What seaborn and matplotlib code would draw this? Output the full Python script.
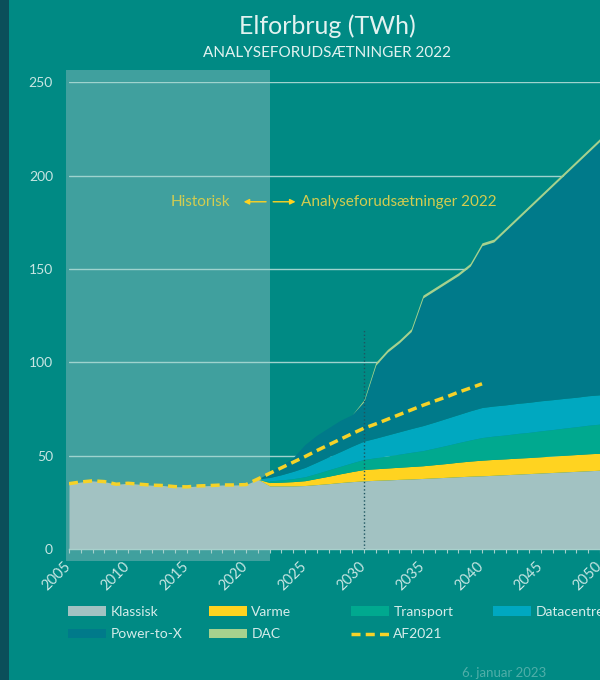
import matplotlib
matplotlib.use("Agg")
import matplotlib.pyplot as plt
from matplotlib.patches import Rectangle
from matplotlib.lines import Line2D
import seaborn as sns

# historic consumption (all classic) 2005-2021
hist_years = list(range(2005, 2022))
hist_total = [35.0, 35.9, 36.5, 36.1, 34.7, 35.2, 34.7, 34.2, 34.0, 33.4,
              33.3, 33.8, 34.0, 34.3, 34.3, 34.5, 37.4]

# projection 2022-2050
proj_years = list(range(2022, 2051))
klassisk = [33.8, 33.8, 33.8, 34.0, 34.5, 35.0, 35.6, 36.1, 36.5, 36.8,
            37.0, 37.3, 37.5, 37.8, 38.1, 38.4, 38.7, 39.0, 39.2, 39.5,
            39.8, 40.1, 40.4, 40.7, 41.0, 41.3, 41.6, 41.9, 42.2]
varme = [1.8, 2.0, 2.3, 2.6, 3.3, 4.0, 4.7, 5.4, 6.1, 6.2,
         6.4, 6.5, 6.7, 6.8, 7.1, 7.4, 7.8, 8.1, 8.4, 8.5,
         8.5, 8.6, 8.6, 8.7, 8.8, 8.9, 9.0, 9.1, 9.1]
transport = [0.9, 1.2, 1.6, 2.1, 2.7, 3.4, 4.0, 4.7, 5.4, 5.9,
             6.5, 7.0, 7.6, 8.1, 8.9, 9.7, 10.5, 11.3, 12.1, 12.5,
             12.8, 13.2, 13.5, 13.9, 14.2, 14.6, 14.9, 15.3, 15.6]
datacentre = [1.8, 2.8, 3.9, 5.0, 6.0, 7.0, 7.9, 8.9, 9.8, 10.5,
              11.2, 12.0, 12.7, 13.4, 13.9, 14.5, 15.0, 15.6, 16.1, 16.1,
              16.1, 16.1, 16.1, 16.1, 16.0, 15.9, 15.8, 15.8, 15.7]
power_to_x = [2.7, 5.2, 7.4, 12.3, 14.5, 15.6, 16.8, 16.9, 21.2, 39.1,
              44.4, 47.7, 52.0, 68.4, 70.5, 72.5, 74.5, 77.5, 86.7, 87.9,
              93.3, 98.5, 103.9, 109.1, 114.5, 119.8, 125.2, 130.4, 135.9]
dac = [0.0, 0.0, 0.0, 0.0, 0.0, 0.0, 0.0, 0.0, 1.0, 1.5,
       1.5, 1.5, 1.5, 1.5, 1.5, 1.5, 1.5, 1.5, 1.5, 1.5,
       1.5, 1.5, 1.5, 1.5, 1.5, 1.5, 1.5, 1.5, 1.5]

# previous analysis assumptions (AF2021), 2005-2040
af_years = list(range(2005, 2041))
af2021 = [35.0, 35.9, 36.5, 36.1, 34.7, 35.2, 34.7, 34.2, 34.0, 33.4,
          33.3, 33.8, 34.0, 34.3, 34.3, 34.5, 37.5, 40.5, 43.5, 46.5,
          49.5, 52.7, 55.8, 58.8, 61.8, 64.7, 67.0, 69.5, 72.0, 74.5,
          77.0, 79.3, 81.5, 84.0, 86.2, 88.5]

labels = ["Klassisk", "Varme", "Transport", "Datacentre", "Power-to-X", "DAC"]
colors = ["#A2C2C2", "#FFD320", "#00A98F", "#00A8C0", "#007A8A", "#A6D18E"]

BG = "#008A84"
TXT = "#C8E6E3"

sns.set_theme(style="white")
plt.rcParams["font.family"] = ["Lato", "DejaVu Sans"]

years = hist_years + proj_years
pad = [0.0] * len(hist_years)
series = [hist_total + klassisk, pad + varme, pad + transport,
          pad + datacentre, pad + power_to_x, pad + dac]

fig = plt.figure(figsize=(6, 6.8), dpi=100, facecolor=BG)
fig.patches.append(Rectangle((0, 0), 9 / 600, 1, transform=fig.transFigure,
                             facecolor="#0B4F5A", edgecolor="none", zorder=0))
ax = fig.add_axes([69 / 600, 131 / 680, 531 / 600, 466.7 / 680])
ax.set_facecolor("none")

# historic shading
ax.add_patch(Rectangle((2004.75, -6.3), 2022.05 - 2004.75, 262.8, facecolor="#40A09E",
                       edgecolor="none", zorder=0.2, clip_on=False))

ax.stackplot(years, *series, colors=colors, linewidth=0, zorder=1)

ax.vlines(2030, 0, 118, colors="#1E5560", linestyles=":", linewidth=1, zorder=2)

sns.lineplot(x=af_years, y=af2021, ax=ax, color="#F5D228", linewidth=2.5,
             linestyle=(0, (2.6, 1.5)), zorder=3, legend=False)

ax.set_xlim(2005, 2050)
ax.set_ylim(0, 250)
ax.set_yticks(range(0, 251, 50))
ax.set_xticks(range(2005, 2051, 5))
ax.set_xticks(range(2005, 2051), minor=True)
ax.grid(axis="y", color="#9FD3CE", linewidth=1)
ax.grid(axis="x", visible=False)
ax.set_axisbelow(True)
for s in ["top", "right", "left"]:
    ax.spines[s].set_visible(False)
ax.spines["bottom"].set_color("#A8D0CC")
ax.spines["bottom"].set_linewidth(1)
ax.spines["bottom"].set_zorder(4)
ax.tick_params(axis="y", length=0, pad=11.5, labelsize=10, labelcolor=TXT)
ax.tick_params(axis="x", which="both", direction="out", length=3, width=0.8,
               color="#A8D0CC", labelsize=10.5, labelcolor=TXT, pad=8, bottom=True)
for lab in ax.get_xticklabels():
    lab.set_rotation(45)
    lab.set_ha("right")
    lab.set_va("center")
    lab.set_rotation_mode("anchor")

# annotation
ann_col = "#D2CC50"
ax.text(2018.7, 186, "Historisk", color=ann_col, fontsize=11, ha="right", va="center")
ax.annotate("", xy=(2019.8, 186), xytext=(2021.7, 186),
            arrowprops=dict(arrowstyle="-|>", color="#FFD320", lw=1, mutation_scale=8,
                            shrinkA=0, shrinkB=0))
ax.annotate("", xy=(2024.2, 186), xytext=(2022.3, 186),
            arrowprops=dict(arrowstyle="-|>", color="#FFD320", lw=1, mutation_scale=8,
                            shrinkA=0, shrinkB=0))
ax.text(2024.65, 186, "Analyseforudsætninger 2022", color=ann_col, fontsize=11,
        ha="left", va="center")

# titles
fig.text(327 / 600, 1 - 26 / 680, "Elforbrug (TWh)", ha="center", va="center",
         fontsize=18, color="#E2F2F0")
fig.text(327 / 600, 1 - 53 / 680, "ANALYSEFORUDSÆTNINGER 2022", ha="center",
         va="center", fontsize=11, color="#E2F2F0")
fig.text(462 / 600, 1 - 673 / 680, "6. januar 2023", ha="left", va="center",
         fontsize=9.5, color="#4FAEA8")

# legend, one column at a time
handles = [Rectangle((0, 0), 1, 1, facecolor=c, edgecolor="none") for c in colors]
handles.append(Line2D([], [], color="#F5D228", linewidth=2.5, linestyle=(0, (2.6, 1.5))))
names = labels + ["AF2021"]
columns = [[0, 4], [1, 5], [2, 6], [3]]
col_x = [68, 209, 351, 493]
for idx, cx in zip(columns, col_x):
    leg = fig.legend([handles[i] for i in idx], [names[i] for i in idx],
                     loc="upper left", bbox_to_anchor=(cx / 600, 1 - 606 / 680),
                     frameon=False, fontsize=10, handlelength=2.7, handleheight=0.65,
                     handletextpad=0.35, labelspacing=0.75, borderpad=0,
                     borderaxespad=0, labelcolor="#D5ECEA")

fig.savefig("out.png", dpi=100, facecolor=BG)
